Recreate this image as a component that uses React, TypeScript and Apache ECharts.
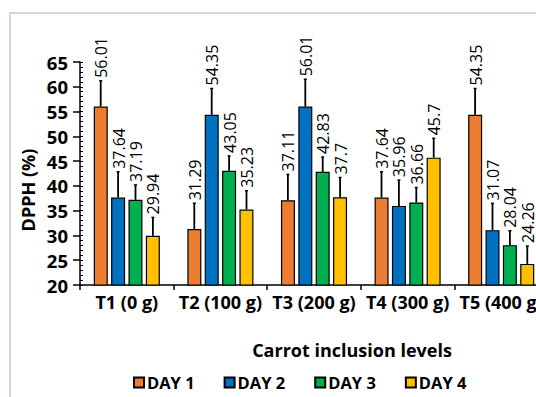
import React, { useEffect, useRef } from "react";
import * as echarts from "echarts";

const categories = ["T1 (0 g)", "T2 (100 g)", "T3 (200 g)", "T4 (300 g)", "T5 (400 g)"];
const seriesNames = ["DAY 1", "DAY 2", "DAY 3", "DAY 4"];
const day1 = [56.01, 31.29, 37.11, 37.64, 54.35];
const day2 = [37.64, 54.35, 56.01, 35.96, 31.07];
const day3 = [37.19, 43.05, 42.83, 36.66, 28.04];
const day4 = [29.94, 35.23, 37.7, 45.7, 24.26];
const err1 = [5.2, 5.2, 5.2, 5.2, 5.3];
const err2 = [5.2, 5.3, 5.5, 5.2, 5.4];
const err3 = [3.0, 3.0, 3.0, 3.0, 2.9];
const err4 = [3.7, 3.8, 4.0, 3.9, 3.6];
const colors = ["#ED7D31", "#0070C0", "#00B050", "#FFC000"];

const FONT = "'Open Sans', sans-serif";

export default function App() {
  const ref = useRef<HTMLDivElement>(null);
  useEffect(() => {
    if (!ref.current) return;
    const chart = echarts.init(ref.current, undefined, { renderer: "svg" });
    const values = [day1, day2, day3, day4];
    const errs = [err1, err2, err3, err4];
    const barW = 14;
    const step = 17.4;
    const errData: any[] = [];
    values.forEach((arr, s) => {
      arr.forEach((v, c) => {
        errData.push([c, s, v, errs[s][c]]);
      });
    });
    const option: any = {
      animation: false,
      textStyle: { fontFamily: FONT },
      grid: { left: 80, top: 62, bottom: 112, right: 12, containLabel: false },
      legend: {
        data: seriesNames,
        left: 128,
        top: 369,
        itemWidth: 10,
        itemHeight: 10,
        itemGap: 29,
        icon: "rect",
        textStyle: { fontFamily: FONT, fontWeight: "bold", fontSize: 16.5, color: "#000", padding: [0, 0, 0, -2] },
      },
      xAxis: {
        type: "category",
        data: categories,
        axisLine: { lineStyle: { color: "#000", width: 1.5 } },
        axisTick: { show: true, length: 5, alignWithLabel: false, lineStyle: { color: "#000", width: 1.5 } },
        axisLabel: { interval: 0, color: "#000", fontFamily: FONT, fontWeight: "bold", fontSize: 18, margin: 8 },
      },
      yAxis: [
        {
          type: "value",
          min: 20,
          max: 65,
          interval: 5,
          axisLine: { show: true, lineStyle: { color: "#000", width: 1.5 } },
          axisTick: { show: true, length: 7, lineStyle: { color: "#000", width: 1.5 } },
          axisLabel: { color: "#000", fontFamily: FONT, fontWeight: "bold", fontSize: 18.5, margin: 12 },
          splitLine: { show: false },
        },
        {
          type: "value",
          min: 20,
          max: 65,
          interval: 1,
          position: "left",
          axisLine: { show: false },
          axisTick: { show: true, inside: true, length: 3, lineStyle: { color: "#000", width: 1 } },
          axisLabel: { show: false },
          splitLine: { show: false },
        },
      ],
      series: [
        ...seriesNames.map((name, s) => ({
          name,
          type: "bar",
          data: values[s],
          barWidth: barW,
          barGap: "24%",
          itemStyle: { color: colors[s], borderColor: "#000", borderWidth: 1.2 },
        })),
        {
          type: "custom",
          clip: false,
          silent: true,
          data: errData,
          encode: { x: 0, y: 2 },
          renderItem: (params: any, api: any) => {
            const c = api.value(0);
            const s = api.value(1);
            const v = api.value(2);
            const e = api.value(3);
            const base = api.coord([c, v]);
            const top = api.coord([c, v + e]);
            const x = base[0] + (s - 1.5) * step;
            return {
              type: "group",
              children: [
                {
                  type: "line",
                  shape: { x1: x, y1: base[1], x2: x, y2: top[1] },
                  style: { stroke: "#000", lineWidth: 1.8 },
                },
                {
                  type: "line",
                  shape: { x1: x - 1.5, y1: top[1], x2: x + 1.5, y2: top[1] },
                  style: { stroke: "#000", lineWidth: 1.5 },
                },
                {
                  type: "text",
                  x: x + 0.5,
                  y: top[1] - 3,
                  rotation: Math.PI / 2,
                  style: {
                    text: String(v),
                    align: "left",
                    verticalAlign: "middle",
                    fontFamily: FONT,
                    fontSize: 16,
                    fill: "#000",
                  },
                },
              ],
            };
          },
        },
      ],
      graphic: [
        {
          type: "rect",
          shape: { x: 10, y: 13, width: 700, height: 600 },
          style: { fill: "none", stroke: "#d9d5c8", lineWidth: 2 },
          silent: true,
        },
        {
          type: "text",
          x: 28,
          y: 190,
          rotation: Math.PI / 2,
          style: {
            text: "DPPH (%)",
            align: "center",
            verticalAlign: "middle",
            fontFamily: FONT,
            fontWeight: "bold",
            fontSize: 18,
            fill: "#000",
          },
        },
        {
          type: "text",
          x: 352,
          y: 350,
          style: {
            text: "Carrot inclusion levels",
            align: "center",
            verticalAlign: "middle",
            fontFamily: FONT,
            fontWeight: "bold",
            fontSize: 18,
            fill: "#000",
          },
        },
      ],
    };
    chart.setOption(option);
    return () => chart.dispose();
  }, []);
  return (
    <div style={{ position: "fixed", left: 0, top: 0, width: 536, height: 397, overflow: "hidden", background: "#fff" }}>
      <div ref={ref} style={{ width: 560, height: 397 }} />
    </div>
  );
}
